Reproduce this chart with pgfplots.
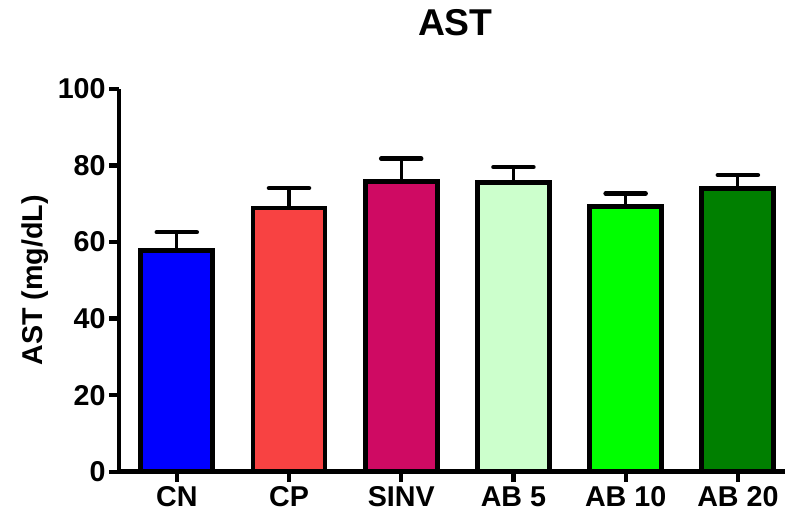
\documentclass[border=0pt]{standalone}
\usepackage{pgfplots}
\pgfplotsset{compat=1.18}
\usepackage{fontspec}
\setmainfont{Liberation Sans}
\definecolor{cCN}{HTML}{0000FF}
\definecolor{cCP}{HTML}{F84242}
\definecolor{cSINV}{HTML}{CF0A63}
\definecolor{cAB5}{HTML}{CCFFCC}
\definecolor{cAB10}{HTML}{00FF00}
\definecolor{cAB20}{HTML}{007F00}
\begin{document}
\begin{tikzpicture}
\useasboundingbox (-89.25pt,-32.25pt) rectangle (501pt,353.75pt);
\begin{axis}[
  width=499.5pt, height=287pt, scale only axis,
  xmin=-0.515, xmax=5.42, ymin=0, ymax=100,
  axis x line*=bottom, axis y line*=left,
  axis line style={line width=3.6pt,-},
  every tick/.style={black,line width=3.2pt},
  tick align=outside,
  major tick length=7.5pt,
  ytick={0,20,...,100},
  xtick={0,1,2,3,4,5},
  xticklabels={CN,CP,SINV,AB 5,AB 10,AB 20},
  /pgf/number format/assume math mode=true,
  ticklabel style={font=\fontsize{21.5}{21.5}\selectfont\bfseries},
  yticklabel style={xshift=1pt},
  xticklabel style={yshift=0pt},
  ylabel={AST (mg/dL)},
  ylabel style={font=\fontsize{21.5}{21.5}\selectfont\bfseries, at={(axis description cs:-0.126,0.5)}, anchor=center},
  title={AST},
  title style={font=\fontsize{28}{28}\selectfont\bfseries, at={(axis description cs:0.505,1)}, anchor=base, yshift=34pt},
  ybar, bar width=54pt, bar shift=0pt,
  clip=false,
  every axis plot/.append style={draw=black, line width=3.6pt},
  error bars/y dir=plus, error bars/y explicit,
  error bars/error mark=|,
  error bars/error bar style={line width=2.4pt, black, line cap=round},
  error bars/error mark options={line width=3.4pt, mark size=15pt, black, line cap=round},
]
\addplot[fill=cCN] coordinates {(0,57.7) +- (0,4.9)};
\addplot[fill=cCP] coordinates {(1,68.9) +- (0,5.2)};
\addplot[fill=cSINV] coordinates {(2,75.9) +- (0,5.9)};
\addplot[fill=cAB5] coordinates {(3,75.5) +- (0,4.1)};
\addplot[fill=cAB10] coordinates {(4,69.2) +- (0,3.5)};
\addplot[fill=cAB20] coordinates {(5,73.9) +- (0,3.6)};
\end{axis}
\end{tikzpicture}
\end{document}
